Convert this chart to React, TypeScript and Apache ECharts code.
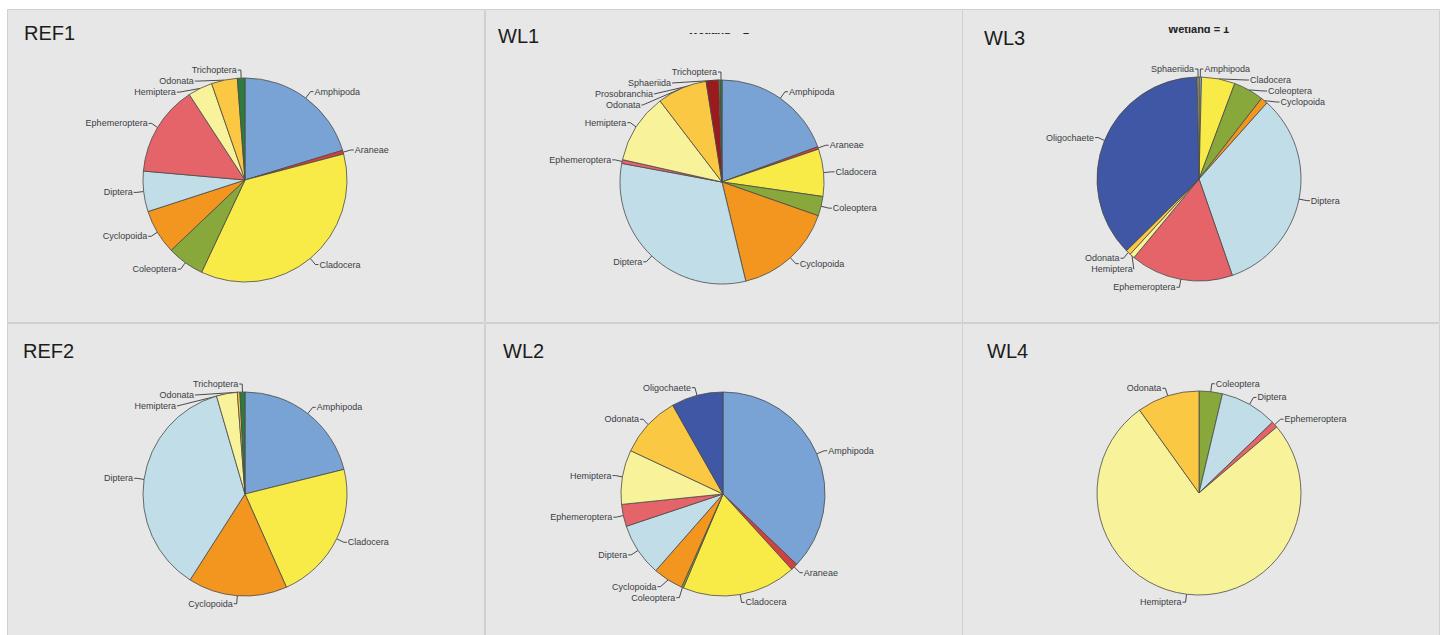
import React, { useEffect, useRef } from "react";
import * as echarts from "echarts";

// Colour for each taxon, shared by all six pies
const taxonColors: Record<string, string> = {
  Amphipoda: "#7aa3d5",
  Araneae: "#d2403f",
  Cladocera: "#f9eb47",
  Coleoptera: "#88a83b",
  Cyclopoida: "#f2961f",
  Diptera: "#c0dde8",
  Ephemeroptera: "#e5646a",
  Hemiptera: "#f8f29a",
  Odonata: "#fac842",
  Oligochaete: "#3f57a5",
  Prosobranchia: "#9a1a1e",
  Sphaeriida: "#c4ad3a",
  Trichoptera: "#2f7b3b",
};

// Relative abundance (%) of each taxon per site
const ref1Taxa = ["Amphipoda", "Araneae", "Cladocera", "Coleoptera", "Cyclopoida", "Diptera", "Ephemeroptera", "Hemiptera", "Odonata", "Trichoptera"];
const ref1Values = [20.3, 0.6, 36.1, 5.9, 7.1, 6.4, 14.4, 3.9, 4.1, 1.2];

const wl1Taxa = ["Amphipoda", "Araneae", "Cladocera", "Coleoptera", "Cyclopoida", "Diptera", "Ephemeroptera", "Hemiptera", "Odonata", "Prosobranchia", "Sphaeriida", "Trichoptera"];
const wl1Values = [19.4, 0.4, 7.5, 3.1, 15.9, 31.7, 0.6, 11.1, 7.9, 2.0, 0.2, 0.3];

const wl3Taxa = ["Amphipoda", "Cladocera", "Coleoptera", "Cyclopoida", "Diptera", "Ephemeroptera", "Hemiptera", "Odonata", "Oligochaete", "Sphaeriida"];
const wl3Values = [0.4, 5.3, 4.8, 1.1, 33.1, 16.3, 0.8, 0.8, 37.1, 0.3];

const ref2Taxa = ["Amphipoda", "Cladocera", "Cyclopoida", "Diptera", "Hemiptera", "Odonata", "Trichoptera"];
const ref2Values = [21.1, 22.2, 15.7, 36.4, 3.3, 0.4, 0.8];

const wl2Taxa = ["Amphipoda", "Araneae", "Cladocera", "Coleoptera", "Cyclopoida", "Diptera", "Ephemeroptera", "Hemiptera", "Odonata", "Oligochaete"];
const wl2Values = [37.1, 1.1, 18.1, 0.3, 4.8, 8.4, 3.5, 8.6, 9.8, 8.2];

const wl4Taxa = ["Coleoptera", "Diptera", "Ephemeroptera", "Hemiptera", "Odonata"];
const wl4Values = [3.7, 9.1, 1.0, 76.3, 9.9];

const siteNames = ["REF1", "WL1", "WL3", "REF2", "WL2", "WL4"];
const siteTaxa = [ref1Taxa, wl1Taxa, wl3Taxa, ref2Taxa, wl2Taxa, wl4Taxa];
const siteValues = [ref1Values, wl1Values, wl3Values, ref2Values, wl2Values, wl4Values];

// Panel layout
const panelX = [7, 485, 962];
const panelW = [477, 477, 477];
const panelY = [9, 323];
const panelH = [313, 312];
const pieCenters: [number, number][] = [
  [245, 180], [722, 182], [1199, 179],
  [245, 494], [723, 494], [1199, 493],
];
const titlePos: [number, number][] = [
  [24, 33], [498, 36], [984, 38],
  [23, 351], [503, 351], [987, 351],
];

const PANEL_BG = "#e6e7e6";
const PANEL_EDGE = "#cfd0cf";

export default function App() {
  const ref = useRef<HTMLDivElement>(null);

  useEffect(() => {
    if (!ref.current) return;
    const chart = echarts.init(ref.current, undefined, { renderer: "svg" });

    const graphics: any[] = [];
    for (let r = 0; r < 2; r++) {
      for (let c = 0; c < 3; c++) {
        graphics.push({
          type: "rect",
          z: -10,
          shape: { x: panelX[c] + 0.5, y: panelY[r] + 0.5, width: panelW[c], height: panelH[r] },
          style: { fill: PANEL_BG, stroke: PANEL_EDGE, lineWidth: 1 },
        });
      }
    }
    siteNames.forEach((name, i) => {
      graphics.push({
        type: "text",
        x: titlePos[i][0],
        y: titlePos[i][1],
        style: {
          text: name,
          fill: "#1c1c1c",
          font: "20px 'Liberation Sans', Arial, sans-serif",
          textVerticalAlign: "middle",
        },
      });
    });
    // Partly hidden facet subtitles above WL3 and WL1
    graphics.push({
      type: "text",
      x: 1168,
      y: 34,
      z: 1,
      style: {
        text: "Wetland = 1",
        fill: "#222",
        font: "bold 11px 'Liberation Sans', Arial, sans-serif",
        textVerticalAlign: "bottom",
      },
    });
    graphics.push({
      type: "rect",
      z: 2,
      shape: { x: 1160, y: 18, width: 80, height: 9 },
      style: { fill: PANEL_BG },
    });
    graphics.push({
      type: "text",
      x: 688,
      y: 35,
      z: 1,
      style: {
        text: "Wetland = 2",
        fill: "#222",
        font: "bold 11px 'Liberation Sans', Arial, sans-serif",
        textVerticalAlign: "bottom",
      },
    });
    graphics.push({
      type: "rect",
      z: 2,
      shape: { x: 680, y: 18, width: 90, height: 15 },
      style: { fill: PANEL_BG },
    });

    const series = siteNames.map((name, i) => ({
      type: "pie",
      name,
      center: pieCenters[i],
      radius: 102,
      startAngle: 90,
      clockwise: true,
      avoidLabelOverlap: true,
      minShowLabelAngle: 0,
      emphasis: { disabled: true },
      itemStyle: { borderColor: "#4a4a4a", borderWidth: 0.8 },
      label: {
        show: true,
        position: "outside",
        fontSize: 9,
        color: "#3d3d45",
        fontFamily: "'Liberation Sans', Arial, sans-serif",
        distanceToLabelLine: 1,
      },
      labelLine: {
        show: true,
        length: 8,
        length2: 3,
        lineStyle: { color: "#222", width: 0.8 },
      },
      data: siteTaxa[i].map((t, k) => ({
        name: t,
        value: siteValues[i][k],
        itemStyle: { color: taxonColors[t] },
      })),
    }));

    chart.setOption({
      animation: false,
      backgroundColor: "#ffffff",
      graphic: { elements: graphics },
      series,
    });

    return () => chart.dispose();
  }, []);

  return (
    <div
      ref={ref}
      style={{ position: "absolute", left: 0, top: 0, width: 1446, height: 635 }}
    />
  );
}
